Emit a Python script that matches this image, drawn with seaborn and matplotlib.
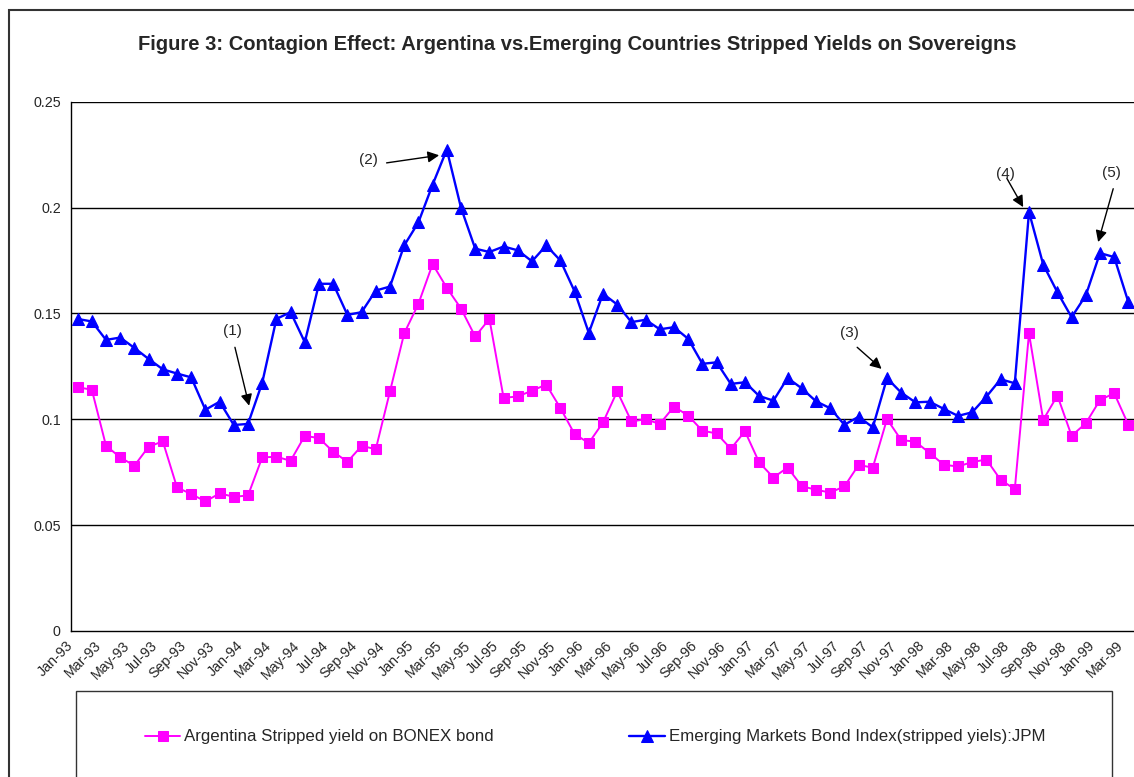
import numpy as np
import pandas as pd
import seaborn as sns
import matplotlib
matplotlib.use("Agg")
import matplotlib.pyplot as plt
from matplotlib.patches import Rectangle

# monthly observations, Jan-93 .. Mar-99
months = pd.date_range("1993-01-01", periods=75, freq="MS").strftime("%b-%y").tolist()

argentina = [0.1151, 0.1140, 0.0875, 0.0820, 0.0781, 0.0870, 0.0896, 0.0678, 0.0647, 0.0612,
             0.0650, 0.0634, 0.0640, 0.0820, 0.0823, 0.0804, 0.0922, 0.0911, 0.0847, 0.0799,
             0.0874, 0.0859, 0.1132, 0.1406, 0.1545, 0.1733, 0.1621, 0.1523, 0.1391, 0.1474,
             0.1101, 0.1108, 0.1135, 0.1164, 0.1053, 0.0930, 0.0888, 0.0985, 0.1132, 0.0990,
             0.1000, 0.0978, 0.1060, 0.1017, 0.0946, 0.0933, 0.0861, 0.0943, 0.0796, 0.0725,
             0.0772, 0.0684, 0.0667, 0.0654, 0.0683, 0.0784, 0.0772, 0.1001, 0.0902, 0.0894,
             0.0841, 0.0785, 0.0777, 0.0798, 0.0810, 0.0714, 0.0670, 0.1406, 0.0997, 0.1112,
             0.0922, 0.0981, 0.1091, 0.1123, 0.0974]

embi = [0.1474, 0.1462, 0.1375, 0.1386, 0.1337, 0.1285, 0.1236, 0.1216, 0.1198, 0.1045,
        0.1083, 0.0973, 0.0978, 0.1172, 0.1474, 0.1506, 0.1364, 0.1640, 0.1640, 0.1493,
        0.1506, 0.1608, 0.1627, 0.1821, 0.1930, 0.2108, 0.2274, 0.1999, 0.1806, 0.1790,
        0.1816, 0.1798, 0.1746, 0.1821, 0.1750, 0.1604, 0.1408, 0.1593, 0.1542, 0.1459,
        0.1470, 0.1425, 0.1435, 0.1380, 0.1262, 0.1269, 0.1167, 0.1175, 0.1110, 0.1088,
        0.1195, 0.1146, 0.1085, 0.1052, 0.0974, 0.1012, 0.0962, 0.1194, 0.1126, 0.1080,
        0.1083, 0.1049, 0.1016, 0.1033, 0.1107, 0.1189, 0.1170, 0.1979, 0.1731, 0.1600,
        0.1482, 0.1585, 0.1785, 0.1766, 0.1553]

y_ticks = [0, 0.05, 0.1, 0.15, 0.2, 0.25]
y_tick_labels = ["0", "0.05", "0.1", "0.15", "0.2", "0.25"]

# (label, text x, text y, arrow start x, arrow start y, arrow tip x, arrow tip y)
notes = [("(1)", 10.89, 0.1416, 11.08, 0.1340, 12.08, 0.1064),
         ("(2)", 20.51, 0.2223, 21.76, 0.2211, 25.46, 0.2247),
         ("(3)", 54.34, 0.1408, 54.90, 0.1340, 56.62, 0.1238),
         ("(4)", 65.37, 0.2160, 65.44, 0.2138, 66.59, 0.2002),
         ("(5)", 72.84, 0.2163, 72.93, 0.2089, 71.87, 0.1837)]

sns.set_style("white")
plt.rcParams["font.family"] = ["Liberation Sans", "DejaVu Sans"]

W, H = 1134, 777
fig = plt.figure(figsize=(W / 100, H / 100), dpi=100)
ax = fig.add_axes([70.5 / W, 1 - 631 / H, 1065 / W, (631 - 101.7) / H])

x = np.arange(len(months))
sns.lineplot(x=x, y=argentina, ax=ax, color="#FF00FF", marker="s", markersize=7,
             markeredgecolor="#FF00FF", linewidth=1.4,
             label="Argentina Stripped yield on BONEX bond")
sns.lineplot(x=x, y=embi, ax=ax, color="#0000FF", marker="^", markersize=8.5,
             markeredgecolor="#0000FF", linewidth=1.7,
             label="Emerging Markets Bond Index(stripped yiels):JPM")

ax.set_xlim(-0.5, 74.5)
ax.set_ylim(0, 0.25)
ax.set_yticks(y_ticks)
ax.set_yticklabels(y_tick_labels, fontsize=10.3)
ax.set_xticks(x[::2] - 0.5)
ax.set_xticklabels(months[::2], rotation=45, ha="right", va="center",
                   rotation_mode="anchor", fontsize=10.3)
ax.tick_params(axis="both", direction="out", length=4, width=1, color="black", pad=3)
ax.tick_params(axis="x", pad=5)
for yv in y_ticks[1:]:
    ax.axhline(yv, color="black", linewidth=1, zorder=0)
for s in ["top", "right"]:
    ax.spines[s].set_visible(False)
for s in ["left", "bottom"]:
    ax.spines[s].set_color("black")
    ax.spines[s].set_linewidth(1)
ax.set_xlabel("")
ax.set_ylabel("")

for lab, tx, ty, sx, sy, ex, ey in notes:
    ax.text(tx, ty, lab, fontsize=11, ha="center", va="center")
    ax.annotate("", xy=(ex, ey), xytext=(sx, sy),
                arrowprops=dict(arrowstyle="-|>", color="black", lw=1, mutation_scale=17,
                                shrinkA=0, shrinkB=0))

ax.legend(loc="center left", bbox_to_anchor=(145 / W, 1 - 737 / H),
          bbox_transform=fig.transFigure, ncol=2, frameon=False, fontsize=12.2,
          handlelength=2.07, handletextpad=0.25, columnspacing=8.0,
          borderaxespad=0, borderpad=0)

fig.text(577 / W, 1 - 44 / H,
         "Figure 3: Contagion Effect: Argentina vs.Emerging Countries Stripped Yields on Sovereigns",
         ha="center", va="center", fontsize=14.5, fontweight="bold")

# chart area border and legend box
fig.patches.append(Rectangle((9 / W, -0.1), 1.2, 1.1 - 10 / H, transform=fig.transFigure,
                             fill=False, edgecolor="#333333", linewidth=1.5))
fig.patches.append(Rectangle((75.7 / W, -0.1), (1112.3 - 75.7) / W, 0.1 + 1 - 690.7 / H,
                             transform=fig.transFigure, fill=False, edgecolor="#333333",
                             linewidth=1))

fig.savefig("out.png", dpi=100)
